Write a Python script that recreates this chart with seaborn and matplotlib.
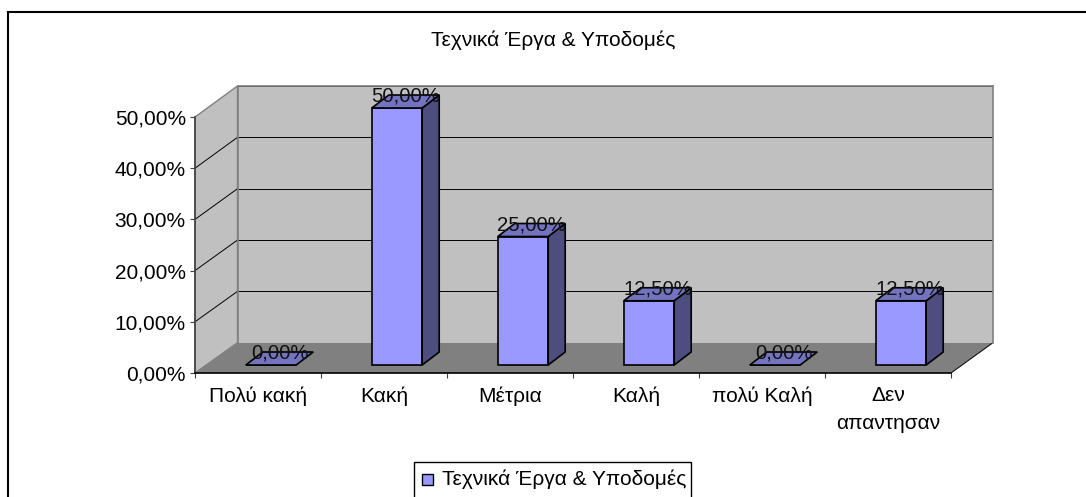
import matplotlib
matplotlib.use("Agg")
import matplotlib.pyplot as plt
from matplotlib.patches import Polygon, Rectangle
import seaborn as sns

categories = ["Πολύ κακή", "Κακή", "Μέτρια", "Καλή", "πολύ Καλή", "Δεν\nαπαντησαν"]
values = [0.0, 50.0, 25.0, 12.5, 0.0, 12.5]
value_labels = ["0,00%", "50,00%", "25,00%", "12,50%", "0,00%", "12,50%"]
y_ticks = [0, 10, 20, 30, 40, 50]
y_tick_labels = ["0,00%", "10,00%", "20,00%", "30,00%", "40,00%", "50,00%"]
title = "Τεχνικά Έργα & Υποδομές"
series_name = "Τεχνικά Έργα & Υποδομές"

W, H = 1086, 497
sns.set_style("white")
plt.rcParams["font.family"] = ["Liberation Sans", "DejaVu Sans"]

fig = plt.figure(figsize=(W / 100, H / 100), dpi=100, facecolor="white")


# pixel box (image coords, y down) -> axes
def box(x0, x1, ytop, ybot, z):
    a = fig.add_axes([x0 / W, 1 - ybot / H, (x1 - x0) / W, (ybot - ytop) / H], zorder=z)
    a.patch.set_alpha(0)
    return a


def pg(pts, **kw):
    pts = [(x / W, 1 - y / H) for x, y in pts]
    fig.add_artist(Polygon(pts, closed=True, transform=fig.transFigure, **kw))


# chart box, only left and top edges are in the image
fig.add_artist(Rectangle((8 / W, -0.02), 1.1, 1.02 - 11.5 / H, transform=fig.transFigure,
                         fc="none", ec="black", lw=1.5))

# walls and floor
xf0, xf1, yf0, yf50 = 195, 951, 373, 117
xb0, xb1, yb0, yb50 = 237.5, 993, 342.7, 86
pg([(xf0, yf0), (xb0, yb0), (xb0, yb50), (xf0, yf50)], fc="#c0c0c0", ec="#808080", lw=1)
pg([(xf0, yf0), (xb0, yb0), (xb1, yb0), (xf1, yf0)], fc="#808080", ec="none")
pg([(xf1, yf0), (xb1, yb0)], fc="none", ec="black", lw=0.7)

back = box(xb0, xb1, yb50, yb0, 1)
back.set_facecolor("#c0c0c0")
back.patch.set_alpha(1)
back.set_xlim(0, 1)
back.set_ylim(0, 50)
back.set_xticks([])
back.set_yticks(y_ticks[1:-1] + [50])
back.set_yticklabels([])
back.tick_params(left=False)
back.grid(axis="y", color="black", lw=0.7)
for s in back.spines.values():
    s.set_color("#808080")
    s.set_linewidth(1.2)
back.spines["bottom"].set_visible(False)

# slanted grid on the side wall
for t in y_ticks[1:-1]:
    pg([(xf0, yf0 - t * (yf0 - yf50) / 50), (xb0, yb0 - t * (yb0 - yb50) / 50)], fc="none", ec="black", lw=0.7)

# front plane, carries the axes
front = box(xf0, xf1, yf50, yf0, 2)
front.set_xlim(-0.5, 5.5)
front.set_ylim(0, 50)
front.set_yticks(y_ticks)
front.set_yticklabels(y_tick_labels, fontsize=15, color="black")
front.set_xticks(range(len(categories)))
front.set_xticklabels(categories, fontsize=15, color="black", linespacing=1.58)
front.set_xticks([i - 0.5 for i in range(len(categories) + 1)], minor=True)
front.tick_params(axis="x", which="major", length=0, pad=9.7)
front.tick_params(axis="x", which="minor", length=3.6, width=0.8, color="#404040", bottom=True)
front.tick_params(axis="y", length=3.6, width=0.8, color="#404040", pad=3, left=True)
for s in ["top", "right"]:
    front.spines[s].set_visible(False)
front.spines["left"].set_color("#404040")
front.spines["left"].set_linewidth(1.2)
front.spines["bottom"].set_color("black")
front.spines["bottom"].set_linewidth(1.2)

# bars sit a little behind the front plane
ax = box(208, 964, 108, 365, 3)
sns.barplot(x=categories, y=values, color="#9999ff", saturation=1, width=0.4, edgecolor="black",
            linewidth=1.2, ax=ax)
ax.set_xlim(-0.5, 5.5)
ax.set_ylim(0, 50)
ax.axis("off")
ax.patch.set_alpha(0)

dx = 17 * 6 / 756
dy = 13 * 50 / 257
for p, lab in zip(ax.patches, value_labels):
    p.set_clip_on(False)
    x0, w, h = p.get_x(), p.get_width(), p.get_height()
    if h > 0:
        ax.add_patch(Polygon([(x0 + w, 0), (x0 + w + dx, dy), (x0 + w + dx, h + dy), (x0 + w, h)],
                             fc="#4d4d80", ec="black", lw=1.2, clip_on=False))
    ax.add_patch(Polygon([(x0, h), (x0 + dx, h + dy), (x0 + w + dx, h + dy), (x0 + w, h)],
                         fc="#7373bf", ec="black", lw=1.2, clip_on=False))
    ax.annotate(lab, (x0 + w / 2 + dx / 2, h + dy), xytext=(0, -1), textcoords="offset pixels",
                ha="center", va="center", fontsize=14.6, color="#111111", annotation_clip=False, zorder=5)

fig.text(553.5 / W, 1 - 46 / H, title, ha="center", va="baseline", fontsize=15, color="black")

# legend
fig.add_artist(Rectangle((413.5 / W, -0.02), 277 / W, 0.02 + 1 - 462 / H, transform=fig.transFigure,
                         fc="white", ec="black", lw=1))
fig.add_artist(Rectangle((422 / W, 1 - 484.5 / H), 11 / W, 11 / H, transform=fig.transFigure,
                         fc="#9999ff", ec="black", lw=1))
fig.text(442 / W, 1 - 485 / H, series_name, ha="left", va="baseline", fontsize=15, color="black")

fig.savefig("out.png", dpi=100)
